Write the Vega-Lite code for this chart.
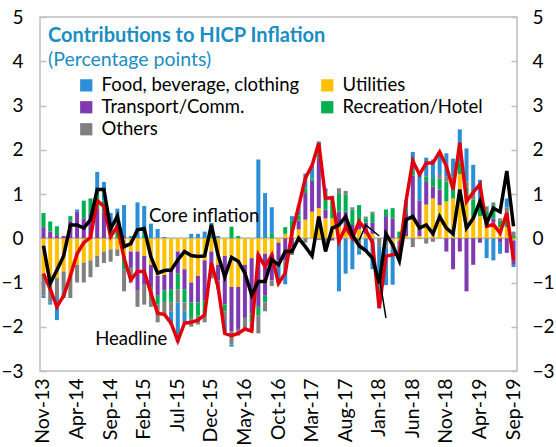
{
  "$schema": "https://vega.github.io/schema/vega-lite/v6.json",
  "width": 477,
  "height": 354,
  "autosize": "none",
  "padding": {"left": 40, "top": 17, "right": 39, "bottom": 76},
  "background": "white",
  "config": {
    "view": {"stroke": "#BFBFBF", "strokeWidth": 1.5},
    "font": "Lato"
  },
  "title": {
    "text": "Contributions to HICP Inflation",
    "subtitle": "(Percentage points)",
    "anchor": "start",
    "frame": "group",
    "orient": "top",
    "offset": -61,
    "dx": 8,
    "font": "Lato",
    "fontSize": 20,
    "fontWeight": "bold",
    "color": "#1A8DC4",
    "subtitleFont": "Lato",
    "subtitleFontSize": 19.5,
    "subtitleColor": "#1A8DC4",
    "subtitlePadding": 5
  },
  "datasets": {
    "bars": [
      {"m":"Nov-13","k":"Food, beverage, clothing","v":-0.05},{"m":"Nov-13","k":"Utilities","v":-0.8},{"m":"Nov-13","k":"Transport/Comm.","v":0.25},{"m":"Nov-13","k":"Recreation/Hotel","v":0.32},{"m":"Nov-13","k":"Others","v":-0.5},
      {"m":"Dec-13","k":"Food, beverage, clothing","v":-0.05},{"m":"Dec-13","k":"Utilities","v":-0.95},{"m":"Dec-13","k":"Transport/Comm.","v":0.15},{"m":"Dec-13","k":"Recreation/Hotel","v":0.23},{"m":"Dec-13","k":"Others","v":-0.5},
      {"m":"Jan-14","k":"Food, beverage, clothing","v":-0.5},{"m":"Jan-14","k":"Utilities","v":-0.9},{"m":"Jan-14","k":"Transport/Comm.","v":0.07},{"m":"Jan-14","k":"Recreation/Hotel","v":0.2},{"m":"Jan-14","k":"Others","v":-0.45},
      {"m":"Feb-14","k":"Food, beverage, clothing","v":-0.15},{"m":"Feb-14","k":"Utilities","v":-0.75},{"m":"Feb-14","k":"Transport/Comm.","v":0.05},{"m":"Feb-14","k":"Recreation/Hotel","v":0},{"m":"Feb-14","k":"Others","v":-0.45},
      {"m":"Mar-14","k":"Food, beverage, clothing","v":0},{"m":"Mar-14","k":"Utilities","v":-0.85},{"m":"Mar-14","k":"Transport/Comm.","v":0.4},{"m":"Mar-14","k":"Recreation/Hotel","v":0.1},{"m":"Mar-14","k":"Others","v":-0.5},
      {"m":"Apr-14","k":"Food, beverage, clothing","v":0.05},{"m":"Apr-14","k":"Utilities","v":-0.6},{"m":"Apr-14","k":"Transport/Comm.","v":0.6},{"m":"Apr-14","k":"Recreation/Hotel","v":0},{"m":"Apr-14","k":"Others","v":-0.4},
      {"m":"May-14","k":"Food, beverage, clothing","v":0},{"m":"May-14","k":"Utilities","v":-0.55},{"m":"May-14","k":"Transport/Comm.","v":0.45},{"m":"May-14","k":"Recreation/Hotel","v":0.4},{"m":"May-14","k":"Others","v":-0.45},
      {"m":"Jun-14","k":"Food, beverage, clothing","v":0},{"m":"Jun-14","k":"Utilities","v":-0.5},{"m":"Jun-14","k":"Transport/Comm.","v":0.55},{"m":"Jun-14","k":"Recreation/Hotel","v":0.35},{"m":"Jun-14","k":"Others","v":-0.38},
      {"m":"Jul-14","k":"Food, beverage, clothing","v":0.42},{"m":"Jul-14","k":"Utilities","v":-0.4},{"m":"Jul-14","k":"Transport/Comm.","v":0.68},{"m":"Jul-14","k":"Recreation/Hotel","v":0.4},{"m":"Jul-14","k":"Others","v":-0.25},
      {"m":"Aug-14","k":"Food, beverage, clothing","v":0.42},{"m":"Aug-14","k":"Utilities","v":-0.3},{"m":"Aug-14","k":"Transport/Comm.","v":0.59},{"m":"Aug-14","k":"Recreation/Hotel","v":0.26},{"m":"Aug-14","k":"Others","v":-0.26},
      {"m":"Sep-14","k":"Food, beverage, clothing","v":0.35},{"m":"Sep-14","k":"Utilities","v":-0.25},{"m":"Sep-14","k":"Transport/Comm.","v":0},{"m":"Sep-14","k":"Recreation/Hotel","v":0.22},{"m":"Sep-14","k":"Others","v":-0.28},
      {"m":"Oct-14","k":"Food, beverage, clothing","v":0.4},{"m":"Oct-14","k":"Utilities","v":-0.25},{"m":"Oct-14","k":"Transport/Comm.","v":0},{"m":"Oct-14","k":"Recreation/Hotel","v":0.27},{"m":"Oct-14","k":"Others","v":-0.15},
      {"m":"Nov-14","k":"Food, beverage, clothing","v":0.7},{"m":"Nov-14","k":"Utilities","v":-0.4},{"m":"Nov-14","k":"Transport/Comm.","v":0.05},{"m":"Nov-14","k":"Recreation/Hotel","v":-0.3},{"m":"Nov-14","k":"Others","v":-0.5},
      {"m":"Dec-14","k":"Food, beverage, clothing","v":0.05},{"m":"Dec-14","k":"Utilities","v":-0.3},{"m":"Dec-14","k":"Transport/Comm.","v":-0.35},{"m":"Dec-14","k":"Recreation/Hotel","v":0},{"m":"Dec-14","k":"Others","v":-0.35},
      {"m":"Jan-15","k":"Food, beverage, clothing","v":0.81},{"m":"Jan-15","k":"Utilities","v":-0.3},{"m":"Jan-15","k":"Transport/Comm.","v":-0.87},{"m":"Jan-15","k":"Recreation/Hotel","v":0},{"m":"Jan-15","k":"Others","v":-0.38},
      {"m":"Feb-15","k":"Food, beverage, clothing","v":0.64},{"m":"Feb-15","k":"Utilities","v":-0.4},{"m":"Feb-15","k":"Transport/Comm.","v":-0.65},{"m":"Feb-15","k":"Recreation/Hotel","v":0.09},{"m":"Feb-15","k":"Others","v":-0.45},
      {"m":"Mar-15","k":"Food, beverage, clothing","v":0.33},{"m":"Mar-15","k":"Utilities","v":-0.6},{"m":"Mar-15","k":"Transport/Comm.","v":-0.5},{"m":"Mar-15","k":"Recreation/Hotel","v":0},{"m":"Mar-15","k":"Others","v":-0.45},
      {"m":"Apr-15","k":"Food, beverage, clothing","v":0.21},{"m":"Apr-15","k":"Utilities","v":-0.85},{"m":"Apr-15","k":"Transport/Comm.","v":-0.45},{"m":"Apr-15","k":"Recreation/Hotel","v":-0.2},{"m":"Apr-15","k":"Others","v":-0.4},
      {"m":"May-15","k":"Food, beverage, clothing","v":0.03},{"m":"May-15","k":"Utilities","v":-0.83},{"m":"May-15","k":"Transport/Comm.","v":-0.35},{"m":"May-15","k":"Recreation/Hotel","v":-0.26},{"m":"May-15","k":"Others","v":-0.3},
      {"m":"Jun-15","k":"Food, beverage, clothing","v":-0.3},{"m":"Jun-15","k":"Utilities","v":-0.7},{"m":"Jun-15","k":"Transport/Comm.","v":-0.45},{"m":"Jun-15","k":"Recreation/Hotel","v":-0.3},{"m":"Jun-15","k":"Others","v":-0.2},
      {"m":"Jul-15","k":"Food, beverage, clothing","v":-0.9},{"m":"Jul-15","k":"Utilities","v":-0.3},{"m":"Jul-15","k":"Transport/Comm.","v":-0.5},{"m":"Jul-15","k":"Recreation/Hotel","v":-0.35},{"m":"Jul-15","k":"Others","v":-0.3},
      {"m":"Aug-15","k":"Food, beverage, clothing","v":-0.25},{"m":"Aug-15","k":"Utilities","v":-0.7},{"m":"Aug-15","k":"Transport/Comm.","v":-0.45},{"m":"Aug-15","k":"Recreation/Hotel","v":-0.3},{"m":"Aug-15","k":"Others","v":-0.2},
      {"m":"Sep-15","k":"Food, beverage, clothing","v":0.1},{"m":"Sep-15","k":"Utilities","v":-1.0},{"m":"Sep-15","k":"Transport/Comm.","v":-0.45},{"m":"Sep-15","k":"Recreation/Hotel","v":-0.35},{"m":"Sep-15","k":"Others","v":-0.2},
      {"m":"Oct-15","k":"Food, beverage, clothing","v":0.1},{"m":"Oct-15","k":"Utilities","v":-0.85},{"m":"Oct-15","k":"Transport/Comm.","v":-0.6},{"m":"Oct-15","k":"Recreation/Hotel","v":-0.3},{"m":"Oct-15","k":"Others","v":-0.2},
      {"m":"Nov-15","k":"Food, beverage, clothing","v":0.15},{"m":"Nov-15","k":"Utilities","v":-0.5},{"m":"Nov-15","k":"Transport/Comm.","v":-0.9},{"m":"Nov-15","k":"Recreation/Hotel","v":-0.3},{"m":"Nov-15","k":"Others","v":-0.2},
      {"m":"Dec-15","k":"Food, beverage, clothing","v":0.25},{"m":"Dec-15","k":"Utilities","v":-0.3},{"m":"Dec-15","k":"Transport/Comm.","v":-0.45},{"m":"Dec-15","k":"Recreation/Hotel","v":0.1},{"m":"Dec-15","k":"Others","v":-0.16},
      {"m":"Jan-16","k":"Food, beverage, clothing","v":0.05},{"m":"Jan-16","k":"Utilities","v":-0.6},{"m":"Jan-16","k":"Transport/Comm.","v":-0.35},{"m":"Jan-16","k":"Recreation/Hotel","v":0},{"m":"Jan-16","k":"Others","v":-0.2},
      {"m":"Feb-16","k":"Food, beverage, clothing","v":-0.3},{"m":"Feb-16","k":"Utilities","v":-0.4},{"m":"Feb-16","k":"Transport/Comm.","v":-1.1},{"m":"Feb-16","k":"Recreation/Hotel","v":-0.15},{"m":"Feb-16","k":"Others","v":-0.2},
      {"m":"Mar-16","k":"Food, beverage, clothing","v":-0.05},{"m":"Mar-16","k":"Utilities","v":-1.1},{"m":"Mar-16","k":"Transport/Comm.","v":-1.0},{"m":"Mar-16","k":"Recreation/Hotel","v":0.26},{"m":"Mar-16","k":"Others","v":-0.3},
      {"m":"Apr-16","k":"Food, beverage, clothing","v":0},{"m":"Apr-16","k":"Utilities","v":-1.1},{"m":"Apr-16","k":"Transport/Comm.","v":-0.95},{"m":"Apr-16","k":"Recreation/Hotel","v":0.05},{"m":"Apr-16","k":"Others","v":-0.15},
      {"m":"May-16","k":"Food, beverage, clothing","v":0},{"m":"May-16","k":"Utilities","v":-0.6},{"m":"May-16","k":"Transport/Comm.","v":-1.2},{"m":"May-16","k":"Recreation/Hotel","v":0},{"m":"May-16","k":"Others","v":-0.25},
      {"m":"Jun-16","k":"Food, beverage, clothing","v":0},{"m":"Jun-16","k":"Utilities","v":-0.45},{"m":"Jun-16","k":"Transport/Comm.","v":-1.25},{"m":"Jun-16","k":"Recreation/Hotel","v":-0.2},{"m":"Jun-16","k":"Others","v":-0.2},
      {"m":"Jul-16","k":"Food, beverage, clothing","v":1.78},{"m":"Jul-16","k":"Utilities","v":-0.35},{"m":"Jul-16","k":"Transport/Comm.","v":-1.2},{"m":"Jul-16","k":"Recreation/Hotel","v":-0.2},{"m":"Jul-16","k":"Others","v":-0.4},
      {"m":"Aug-16","k":"Food, beverage, clothing","v":1.02},{"m":"Aug-16","k":"Utilities","v":-0.35},{"m":"Aug-16","k":"Transport/Comm.","v":-0.95},{"m":"Aug-16","k":"Recreation/Hotel","v":-0.15},{"m":"Aug-16","k":"Others","v":-0.2},
      {"m":"Sep-16","k":"Food, beverage, clothing","v":0.6},{"m":"Sep-16","k":"Utilities","v":-0.35},{"m":"Sep-16","k":"Transport/Comm.","v":-0.6},{"m":"Sep-16","k":"Recreation/Hotel","v":0.1},{"m":"Sep-16","k":"Others","v":-0.13},
      {"m":"Oct-16","k":"Food, beverage, clothing","v":-0.4},{"m":"Oct-16","k":"Utilities","v":-0.1},{"m":"Oct-16","k":"Transport/Comm.","v":-0.4},{"m":"Oct-16","k":"Recreation/Hotel","v":0},{"m":"Oct-16","k":"Others","v":-0.12},
      {"m":"Nov-16","k":"Food, beverage, clothing","v":-0.3},{"m":"Nov-16","k":"Utilities","v":0.1},{"m":"Nov-16","k":"Transport/Comm.","v":-0.5},{"m":"Nov-16","k":"Recreation/Hotel","v":0.15},{"m":"Nov-16","k":"Others","v":-0.24},
      {"m":"Dec-16","k":"Food, beverage, clothing","v":0.1},{"m":"Dec-16","k":"Utilities","v":0.1},{"m":"Dec-16","k":"Transport/Comm.","v":-0.2},{"m":"Dec-16","k":"Recreation/Hotel","v":0.3},{"m":"Dec-16","k":"Others","v":-0.18},
      {"m":"Jan-17","k":"Food, beverage, clothing","v":0.2},{"m":"Jan-17","k":"Utilities","v":0.2},{"m":"Jan-17","k":"Transport/Comm.","v":0.2},{"m":"Jan-17","k":"Recreation/Hotel","v":0.12},{"m":"Jan-17","k":"Others","v":0},
      {"m":"Feb-17","k":"Food, beverage, clothing","v":0.34},{"m":"Feb-17","k":"Utilities","v":0.42},{"m":"Feb-17","k":"Transport/Comm.","v":0.6},{"m":"Feb-17","k":"Recreation/Hotel","v":0.1},{"m":"Feb-17","k":"Others","v":-0.1},
      {"m":"Mar-17","k":"Food, beverage, clothing","v":0.3},{"m":"Mar-17","k":"Utilities","v":0.6},{"m":"Mar-17","k":"Transport/Comm.","v":0.7},{"m":"Mar-17","k":"Recreation/Hotel","v":0.05},{"m":"Mar-17","k":"Others","v":0},
      {"m":"Apr-17","k":"Food, beverage, clothing","v":0.3},{"m":"Apr-17","k":"Utilities","v":0.68},{"m":"Apr-17","k":"Transport/Comm.","v":1.13},{"m":"Apr-17","k":"Recreation/Hotel","v":0.08},{"m":"Apr-17","k":"Others","v":-0.04},
      {"m":"May-17","k":"Food, beverage, clothing","v":0.1},{"m":"May-17","k":"Utilities","v":0.45},{"m":"May-17","k":"Transport/Comm.","v":0.2},{"m":"May-17","k":"Recreation/Hotel","v":0.38},{"m":"May-17","k":"Others","v":-0.22},
      {"m":"Jun-17","k":"Food, beverage, clothing","v":0.05},{"m":"Jun-17","k":"Utilities","v":0.45},{"m":"Jun-17","k":"Transport/Comm.","v":-0.05},{"m":"Jun-17","k":"Recreation/Hotel","v":0.38},{"m":"Jun-17","k":"Others","v":0.08},
      {"m":"Jul-17","k":"Food, beverage, clothing","v":-1.2},{"m":"Jul-17","k":"Utilities","v":0.3},{"m":"Jul-17","k":"Transport/Comm.","v":0.3},{"m":"Jul-17","k":"Recreation/Hotel","v":0.4},{"m":"Jul-17","k":"Others","v":0.13},
      {"m":"Aug-17","k":"Food, beverage, clothing","v":-0.8},{"m":"Aug-17","k":"Utilities","v":0.25},{"m":"Aug-17","k":"Transport/Comm.","v":0.35},{"m":"Aug-17","k":"Recreation/Hotel","v":0.38},{"m":"Aug-17","k":"Others","v":0.09},
      {"m":"Sep-17","k":"Food, beverage, clothing","v":-0.7},{"m":"Sep-17","k":"Utilities","v":0.15},{"m":"Sep-17","k":"Transport/Comm.","v":0.15},{"m":"Sep-17","k":"Recreation/Hotel","v":0.35},{"m":"Sep-17","k":"Others","v":0.05},
      {"m":"Oct-17","k":"Food, beverage, clothing","v":-0.1},{"m":"Oct-17","k":"Utilities","v":0.2},{"m":"Oct-17","k":"Transport/Comm.","v":0.2},{"m":"Oct-17","k":"Recreation/Hotel","v":0.35},{"m":"Oct-17","k":"Others","v":-0.27},
      {"m":"Nov-17","k":"Food, beverage, clothing","v":-0.3},{"m":"Nov-17","k":"Utilities","v":0.1},{"m":"Nov-17","k":"Transport/Comm.","v":0.25},{"m":"Nov-17","k":"Recreation/Hotel","v":0.1},{"m":"Nov-17","k":"Others","v":0.04},
      {"m":"Dec-17","k":"Food, beverage, clothing","v":-0.7},{"m":"Dec-17","k":"Utilities","v":0.1},{"m":"Dec-17","k":"Transport/Comm.","v":0.25},{"m":"Dec-17","k":"Recreation/Hotel","v":0.2},{"m":"Dec-17","k":"Others","v":0.05},
      {"m":"Jan-18","k":"Food, beverage, clothing","v":-1.4},{"m":"Jan-18","k":"Utilities","v":0},{"m":"Jan-18","k":"Transport/Comm.","v":0},{"m":"Jan-18","k":"Recreation/Hotel","v":0},{"m":"Jan-18","k":"Others","v":-0.18},
      {"m":"Feb-18","k":"Food, beverage, clothing","v":-0.87},{"m":"Feb-18","k":"Utilities","v":0.05},{"m":"Feb-18","k":"Transport/Comm.","v":0.45},{"m":"Feb-18","k":"Recreation/Hotel","v":0.15},{"m":"Feb-18","k":"Others","v":-0.19},
      {"m":"Mar-18","k":"Food, beverage, clothing","v":-0.79},{"m":"Mar-18","k":"Utilities","v":-0.11},{"m":"Mar-18","k":"Transport/Comm.","v":0.45},{"m":"Mar-18","k":"Recreation/Hotel","v":0.23},{"m":"Mar-18","k":"Others","v":-0.15},
      {"m":"Apr-18","k":"Food, beverage, clothing","v":-0.35},{"m":"Apr-18","k":"Utilities","v":-0.05},{"m":"Apr-18","k":"Transport/Comm.","v":0},{"m":"Apr-18","k":"Recreation/Hotel","v":0.15},{"m":"Apr-18","k":"Others","v":-0.1},
      {"m":"May-18","k":"Food, beverage, clothing","v":0.2},{"m":"May-18","k":"Utilities","v":0.05},{"m":"May-18","k":"Transport/Comm.","v":0.5},{"m":"May-18","k":"Recreation/Hotel","v":0.1},{"m":"May-18","k":"Others","v":0},
      {"m":"Jun-18","k":"Food, beverage, clothing","v":0.42},{"m":"Jun-18","k":"Utilities","v":0.42},{"m":"Jun-18","k":"Transport/Comm.","v":1.0},{"m":"Jun-18","k":"Recreation/Hotel","v":0.11},{"m":"Jun-18","k":"Others","v":-0.2},
      {"m":"Jul-18","k":"Food, beverage, clothing","v":0.6},{"m":"Jul-18","k":"Utilities","v":0.05},{"m":"Jul-18","k":"Transport/Comm.","v":0.8},{"m":"Jul-18","k":"Recreation/Hotel","v":0},{"m":"Jul-18","k":"Others","v":-0.01},
      {"m":"Aug-18","k":"Food, beverage, clothing","v":0.42},{"m":"Aug-18","k":"Utilities","v":0.76},{"m":"Aug-18","k":"Transport/Comm.","v":0.53},{"m":"Aug-18","k":"Recreation/Hotel","v":0.11},{"m":"Aug-18","k":"Others","v":-0.12},
      {"m":"Sep-18","k":"Food, beverage, clothing","v":0.42},{"m":"Sep-18","k":"Utilities","v":0.9},{"m":"Sep-18","k":"Transport/Comm.","v":0.27},{"m":"Sep-18","k":"Recreation/Hotel","v":0.19},{"m":"Sep-18","k":"Others","v":-0.08},
      {"m":"Oct-18","k":"Food, beverage, clothing","v":0.5},{"m":"Oct-18","k":"Utilities","v":0.75},{"m":"Oct-18","k":"Transport/Comm.","v":0.35},{"m":"Oct-18","k":"Recreation/Hotel","v":0.25},{"m":"Oct-18","k":"Others","v":0.1},
      {"m":"Nov-18","k":"Food, beverage, clothing","v":0.53},{"m":"Nov-18","k":"Utilities","v":0.83},{"m":"Nov-18","k":"Transport/Comm.","v":-0.3},{"m":"Nov-18","k":"Recreation/Hotel","v":0.45},{"m":"Nov-18","k":"Others","v":0.11},
      {"m":"Dec-18","k":"Food, beverage, clothing","v":0.4},{"m":"Dec-18","k":"Utilities","v":0.9},{"m":"Dec-18","k":"Transport/Comm.","v":-0.7},{"m":"Dec-18","k":"Recreation/Hotel","v":0.4},{"m":"Dec-18","k":"Others","v":0.1},
      {"m":"Jan-19","k":"Food, beverage, clothing","v":0.75},{"m":"Jan-19","k":"Utilities","v":1.45},{"m":"Jan-19","k":"Transport/Comm.","v":-0.3},{"m":"Jan-19","k":"Recreation/Hotel","v":0.26},{"m":"Jan-19","k":"Others","v":0},
      {"m":"Feb-19","k":"Food, beverage, clothing","v":0.75},{"m":"Feb-19","k":"Utilities","v":0.9},{"m":"Feb-19","k":"Transport/Comm.","v":-1.2},{"m":"Feb-19","k":"Recreation/Hotel","v":0.25},{"m":"Feb-19","k":"Others","v":0.13},
      {"m":"Mar-19","k":"Food, beverage, clothing","v":0.68},{"m":"Mar-19","k":"Utilities","v":0.48},{"m":"Mar-19","k":"Transport/Comm.","v":-0.6},{"m":"Mar-19","k":"Recreation/Hotel","v":0.4},{"m":"Mar-19","k":"Others","v":0.1},
      {"m":"Apr-19","k":"Food, beverage, clothing","v":0.42},{"m":"Apr-19","k":"Utilities","v":0.5},{"m":"Apr-19","k":"Transport/Comm.","v":-0.1},{"m":"Apr-19","k":"Recreation/Hotel","v":0.3},{"m":"Apr-19","k":"Others","v":0.1},
      {"m":"May-19","k":"Food, beverage, clothing","v":-0.45},{"m":"May-19","k":"Utilities","v":0.3},{"m":"May-19","k":"Transport/Comm.","v":0.12},{"m":"May-19","k":"Recreation/Hotel","v":0.2},{"m":"May-19","k":"Others","v":0.1},
      {"m":"Jun-19","k":"Food, beverage, clothing","v":-0.5},{"m":"Jun-19","k":"Utilities","v":0.35},{"m":"Jun-19","k":"Transport/Comm.","v":0.1},{"m":"Jun-19","k":"Recreation/Hotel","v":0.3},{"m":"Jun-19","k":"Others","v":0.06},
      {"m":"Jul-19","k":"Food, beverage, clothing","v":-0.25},{"m":"Jul-19","k":"Utilities","v":0.25},{"m":"Jul-19","k":"Transport/Comm.","v":-0.1},{"m":"Jul-19","k":"Recreation/Hotel","v":0.15},{"m":"Jul-19","k":"Others","v":0.05},
      {"m":"Aug-19","k":"Food, beverage, clothing","v":0.2},{"m":"Aug-19","k":"Utilities","v":0.25},{"m":"Aug-19","k":"Transport/Comm.","v":-0.33},{"m":"Aug-19","k":"Recreation/Hotel","v":0.2},{"m":"Aug-19","k":"Others","v":0.25},
      {"m":"Sep-19","k":"Food, beverage, clothing","v":-0.05},{"m":"Sep-19","k":"Utilities","v":-0.05},{"m":"Sep-19","k":"Transport/Comm.","v":-0.55},{"m":"Sep-19","k":"Recreation/Hotel","v":0.05},{"m":"Sep-19","k":"Others","v":0.1}
    ],
    "lines": [
      {"m":"Nov-13","h":-0.8,"c":-0.17},{"m":"Dec-13","h":-1.15,"c":-1.02},{"m":"Jan-14","h":-1.55,"c":-0.72},{"m":"Feb-14","h":-1.3,"c":-0.4},
      {"m":"Mar-14","h":-0.85,"c":0.3},{"m":"Apr-14","h":-0.35,"c":0.3},{"m":"May-14","h":-0.1,"c":0.23},{"m":"Jun-14","h":0.02,"c":0.42},
      {"m":"Jul-14","h":0.85,"c":1.1},{"m":"Aug-14","h":0.72,"c":1.1},{"m":"Sep-14","h":0.04,"c":0.21},{"m":"Oct-14","h":0.27,"c":0.5},
      {"m":"Nov-14","h":-0.45,"c":-0.19},{"m":"Dec-14","h":-0.94,"c":-0.12},{"m":"Jan-15","h":-0.75,"c":0.19},{"m":"Feb-15","h":-0.75,"c":0.22},
      {"m":"Mar-15","h":-1.24,"c":-0.42},{"m":"Apr-15","h":-1.7,"c":-0.79},{"m":"May-15","h":-1.72,"c":-0.73},{"m":"Jun-15","h":-1.92,"c":-0.72},
      {"m":"Jul-15","h":-2.32,"c":-0.49},{"m":"Aug-15","h":-1.92,"c":-0.3},{"m":"Sep-15","h":-1.9,"c":-0.39},{"m":"Oct-15","h":-1.85,"c":-0.41},
      {"m":"Nov-15","h":-1.73,"c":-0.4},{"m":"Dec-15","h":-0.56,"c":0.3},{"m":"Jan-16","h":-1.1,"c":-0.38},{"m":"Feb-16","h":-2.15,"c":-0.87},
      {"m":"Mar-16","h":-2.2,"c":-0.43},{"m":"Apr-16","h":-2.15,"c":-0.52},{"m":"May-16","h":-2.05,"c":-0.79},{"m":"Jun-16","h":-2.1,"c":-1.28},
      {"m":"Jul-16","h":-0.38,"c":-0.98},{"m":"Aug-16","h":-0.64,"c":-0.98},{"m":"Sep-16","h":-0.38,"c":-0.48},{"m":"Oct-16","h":-1.02,"c":-0.6},
      {"m":"Nov-16","h":-0.79,"c":-0.3},{"m":"Dec-16","h":0.12,"c":-0.3},{"m":"Jan-17","h":0.72,"c":0.0},{"m":"Feb-17","h":1.36,"c":-0.19},
      {"m":"Mar-17","h":1.65,"c":-0.4},{"m":"Apr-17","h":2.15,"c":0.49},{"m":"May-17","h":0.91,"c":-0.3},{"m":"Jun-17","h":0.91,"c":0.23},
      {"m":"Jul-17","h":-0.07,"c":0.3},{"m":"Aug-17","h":0.25,"c":0.49},{"m":"Sep-17","h":0.0,"c":0.08},{"m":"Oct-17","h":0.38,"c":-0.17},
      {"m":"Nov-17","h":0.19,"c":-0.28},{"m":"Dec-17","h":-0.1,"c":-0.45},{"m":"Jan-18","h":-1.58,"c":-1.02},{"m":"Feb-18","h":-0.41,"c":0.1},
      {"m":"Mar-18","h":-0.37,"c":-0.15},{"m":"Apr-18","h":-0.35,"c":-0.51},{"m":"May-18","h":0.85,"c":0.42},{"m":"Jun-18","h":1.75,"c":0.49},
      {"m":"Jul-18","h":1.44,"c":0.23},{"m":"Aug-18","h":1.7,"c":0.3},{"m":"Sep-18","h":1.7,"c":0.1},{"m":"Oct-18","h":1.95,"c":0.49},
      {"m":"Nov-18","h":1.63,"c":0.23},{"m":"Dec-18","h":1.1,"c":0.1},{"m":"Jan-19","h":2.16,"c":1.1},{"m":"Feb-19","h":0.83,"c":0.23},
      {"m":"Mar-19","h":1.04,"c":0.45},{"m":"Apr-19","h":1.22,"c":0.83},{"m":"May-19","h":0.27,"c":0.34},{"m":"Jun-19","h":0.31,"c":0.68},
      {"m":"Jul-19","h":0.12,"c":0.6},{"m":"Aug-19","h":0.57,"c":1.52},{"m":"Sep-19","h":-0.49,"c":0.27}
    ],
    "thin": [
      {"m":"Oct-17","v":-0.05,"g":"a"},{"m":"Nov-17","v":0.3,"g":"a"},{"m":"Jan-18","v":0.05,"g":"a"},
      {"m":"Jan-18","v":-0.85,"g":"b"},{"m":"Feb-18","v":-1.8,"g":"b"}
    ],
    "notes": [
      {"m":"Mar-15","v":0.37,"t":"Core inflation"},
      {"m":"Jul-14","v":-2.41,"t":"Headline"}
    ]
  },
  "encoding": {
    "x": {
      "field": "m", "type": "ordinal", "sort": null,
      "scale": {"paddingInner": 0.4, "paddingOuter": 0.22},
      "axis": {
        "values": ["Nov-13","Apr-14","Sep-14","Feb-15","Jul-15","Dec-15","May-16","Oct-16","Mar-17","Aug-17","Jan-18","Jun-18","Nov-18","Apr-19","Sep-19"],
        "labelAngle": 270, "labelAlign": "right", "labelBaseline": "middle",
        "labelPadding": 7, "labelFontSize": 19.5, "labelFont": "Lato", "labelColor": "#000000",
        "ticks": false, "domain": false, "title": null, "grid": false
      }
    }
  },
  "layer": [
    {
      "data": {"values": [{"z": 0}]},
      "mark": {"type": "rule", "color": "#BFBFBF", "strokeWidth": 2},
      "encoding": {
        "x": null,
        "y": {
          "field": "z", "type": "quantitative",
          "scale": {"domain": [-3, 5], "nice": false, "zero": false},
          "axis": {
            "orient": "right", "values": [-3,-2,-1,0,1,2,3,4,5], "grid": false, "domain": false,
            "offset": -6, "ticks": true, "tickSize": 6, "tickColor": "#BFBFBF", "tickWidth": 1.5,
            "labelPadding": 15, "labelFontSize": 19, "labelFont": "Lato", "labelColor": "#000000",
            "labelAlign": "left", "title": null
          }
        }
      }
    },
    {
      "data": {"name": "bars"},
      "mark": {"type": "bar"},
      "encoding": {
        "y": {
          "field": "v", "type": "quantitative", "stack": "zero",
          "scale": {"domain": [-3, 5], "nice": false, "zero": false},
          "axis": {
            "orient": "left", "values": [-3,-2,-1,0,1,2,3,4,5], "grid": false, "domain": false,
            "offset": -6, "ticks": true, "tickSize": 6, "tickColor": "#BFBFBF", "tickWidth": 1.5,
            "labelPadding": 17, "labelFontSize": 19, "labelFont": "Lato", "labelColor": "#000000",
            "title": null
          }
        },
        "color": {
          "field": "k", "type": "nominal",
          "sort": ["Food, beverage, clothing","Utilities","Transport/Comm.","Recreation/Hotel","Others"],
          "scale": {
            "domain": ["Food, beverage, clothing","Utilities","Transport/Comm.","Recreation/Hotel","Others"],
            "range": ["#2B8FD8","#FFC000","#7E3AB0","#00B050","#808080"]
          },
          "legend": {
            "orient": "none", "legendX": 37, "legendY": 59, "columns": 2, "title": null,
            "values": ["Food, beverage, clothing","Transport/Comm.","Others","Utilities","Recreation/Hotel"],
            "symbolType": "square", "symbolSize": 150, "symbolStrokeWidth": 0, "symbolOpacity": 1,
            "labelFontSize": 18.5, "labelFont": "Lato", "labelColor": "#000000", "labelOffset": 6,
            "labelLimit": 0, "rowPadding": 3, "columnPadding": 18
          }
        }
      }
    },
    {
      "data": {"name": "lines"},
      "mark": {"type": "line", "color": "#E3000B", "strokeWidth": 3.5},
      "encoding": {"y": {"field": "h", "type": "quantitative", "axis": null}}
    },
    {
      "data": {"name": "lines"},
      "mark": {"type": "line", "color": "#000000", "strokeWidth": 3.5},
      "encoding": {"y": {"field": "c", "type": "quantitative", "axis": null}}
    },
    {
      "data": {"name": "thin"},
      "mark": {"type": "line", "color": "#000000", "strokeWidth": 1.5},
      "encoding": {"y": {"field": "v", "type": "quantitative", "axis": null}, "detail": {"field": "g", "type": "nominal"}}
    },
    {
      "data": {"name": "notes"},
      "mark": {"type": "text", "align": "left", "baseline": "alphabetic", "fontSize": 18.5, "font": "Lato", "color": "#000000", "dx": -2},
      "encoding": {"y": {"field": "v", "type": "quantitative", "axis": null}, "text": {"field": "t"}}
    }
  ],
  "resolve": {"axis": {"y": "independent"}}
}
